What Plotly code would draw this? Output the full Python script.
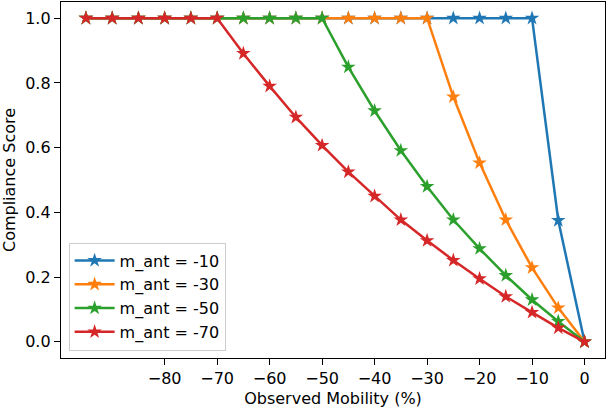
import plotly.graph_objects as go

observed_mobility = [-95, -90, -85, -80, -75, -70, -65, -60, -55, -50,
                     -45, -40, -35, -30, -25, -20, -15, -10, -5, 0]

series_names = ["m_ant = -10", "m_ant = -30", "m_ant = -50", "m_ant = -70"]

score_m10 = [1.0, 1.0, 1.0, 1.0, 1.0, 1.0, 1.0, 1.0, 1.0, 1.0,
             1.0, 1.0, 1.0, 1.0, 1.0, 1.0, 1.0, 1.0, 0.375, 0.0]
score_m30 = [1.0, 1.0, 1.0, 1.0, 1.0, 1.0, 1.0, 1.0, 1.0, 1.0,
             1.0, 1.0, 1.0, 1.0, 0.757, 0.553, 0.377, 0.229, 0.105, 0.0]
score_m50 = [1.0, 1.0, 1.0, 1.0, 1.0, 1.0, 1.0, 1.0, 1.0, 1.0,
             0.849, 0.714, 0.591, 0.480, 0.377, 0.288, 0.205, 0.130, 0.063, 0.0]
score_m70 = [1.0, 1.0, 1.0, 1.0, 1.0, 1.0, 0.891, 0.790, 0.694, 0.607,
             0.525, 0.450, 0.377, 0.313, 0.252, 0.195, 0.140, 0.091, 0.043, 0.0]

colors = ["#1f77b4", "#ff7f0e", "#2ca02c", "#d62728"]

x_tickvals = [-80, -70, -60, -50, -40, -30, -20, -10, 0]
x_ticktext = ["\u221280", "\u221270", "\u221260", "\u221250", "\u221240",
              "\u221230", "\u221220", "\u221210", "0"]
y_tickvals = [0.0, 0.2, 0.4, 0.6, 0.8, 1.0]
y_ticktext = ["0.0", "0.2", "0.4", "0.6", "0.8", "1.0"]

FONT = "DejaVu Sans"
FS = 16

fig = go.Figure()
for name, ys, c in zip(series_names, [score_m10, score_m30, score_m50, score_m70], colors):
    fig.add_trace(go.Scatter(
        x=observed_mobility, y=ys, name=name, mode="lines+markers",
        line=dict(color=c, width=2.5),
        marker=dict(symbol="star", size=11, color=c, line=dict(width=0)),
    ))

axis_common = dict(
    showline=True, linecolor="black", linewidth=1.3, mirror=True,
    ticks="outside", ticklen=6, tickwidth=1.3, tickcolor="black",
    showgrid=False, zeroline=False,
    tickfont=dict(family=FONT, size=FS, color="black"),
)

fig.update_layout(
    width=611, height=408,
    margin=dict(l=61, r=6, t=2, b=50),
    paper_bgcolor="white", plot_bgcolor="white",
    font=dict(family=FONT, size=FS, color="black"),
    xaxis=dict(
        range=[-99.75, 3.9], tickmode="array", tickvals=x_tickvals, ticktext=x_ticktext,
        title=dict(text="Observed Mobility (%)", font=dict(family=FONT, size=FS), standoff=6),
        **axis_common,
    ),
    yaxis=dict(
        range=[-0.05, 1.05], tickmode="array", tickvals=y_tickvals, ticktext=y_ticktext,
        title=dict(text="Compliance Score", font=dict(family=FONT, size=FS), standoff=6),
        **axis_common,
    ),
    legend=dict(
        x=0.014, y=0.021, xanchor="left", yanchor="bottom",
        bgcolor="rgba(255,255,255,0.8)", bordercolor="#cccccc", borderwidth=1,
        font=dict(family=FONT, size=FS, color="black"),
        itemwidth=40, tracegroupgap=0,
    ),
    showlegend=True,
)

fig.write_html(
    "out.html",
    config={"displayModeBar": False},
    post_script="document.body.style.margin='0';document.body.style.overflow='hidden';",
)
